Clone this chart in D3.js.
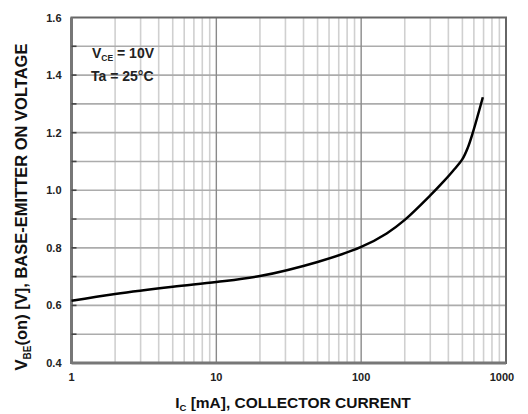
<!DOCTYPE html>
<html>
<head>
<meta charset="UTF-8">
<title>VBE(on) vs IC</title>
<script src="https://cdn.jsdelivr.net/npm/d3@7"></script>
<style>
  body { margin: 0; padding: 0; background: #fff; }
  text { font-family: "Liberation Sans", Arial, sans-serif; }
</style>
</head>
<body>
<script>
// collector current (mA) and VBE(on) (V)
var current = [1, 2, 5, 10, 20, 50, 100, 150, 200, 300, 367, 430, 500, 545, 590, 692];
var vbe     = [0.616, 0.64, 0.665, 0.681, 0.702, 0.751, 0.803, 0.85, 0.897, 0.982, 1.028, 1.067, 1.108, 1.148, 1.2, 1.323];

var xTicks = [1, 10, 100, 1000];
var yTicks = [0.4, 0.6, 0.8, 1.0, 1.2, 1.4, 1.6];

var w = 528, h = 414;
// note: "top" is a read-only window property, so use other names
var pLeft = 71.5, pRight = 506, pTop = 17.5, pBottom = 363;

var svg = d3.select("body").append("svg")
    .attr("width", w)
    .attr("height", h);

var x = d3.scaleLog().domain([1, 1000]).range([pLeft, pRight]);
var y = d3.scaleLinear().domain([0.4, 1.6]).range([pBottom, pTop]);

// minor vertical grid (2..9 per decade)
var minor = [];
[1, 10, 100].forEach(function (d) {
    for (var k = 2; k <= 9; k++) minor.push(d * k);
});
svg.append("g").selectAll("line").data(minor).enter().append("line")
    .attr("x1", function (d) { return x(d); })
    .attr("x2", function (d) { return x(d); })
    .attr("y1", pTop).attr("y2", pBottom)
    .attr("stroke", "#d0d0d0").attr("stroke-width", 1.6);

// horizontal grid every 0.1
var hLines = d3.range(5, 16).map(function (k) { return k / 10; });
svg.append("g").selectAll("line").data(hLines).enter().append("line")
    .attr("x1", pLeft).attr("x2", pRight)
    .attr("y1", function (d) { return y(d); })
    .attr("y2", function (d) { return y(d); })
    .attr("stroke", "#acacac").attr("stroke-width", 1.6);

// decade lines
svg.append("g").selectAll("line").data([10, 100]).enter().append("line")
    .attr("x1", function (d) { return x(d); })
    .attr("x2", function (d) { return x(d); })
    .attr("y1", pTop).attr("y2", pBottom)
    .attr("stroke", "#8a8a8a").attr("stroke-width", 1.4);

// frame
svg.append("rect")
    .attr("x", pLeft).attr("y", pTop)
    .attr("width", pRight - pLeft).attr("height", pBottom - pTop)
    .attr("fill", "none").attr("stroke", "#666").attr("stroke-width", 2);
svg.append("line").attr("x1", pLeft).attr("x2", pLeft).attr("y1", pTop).attr("y2", pBottom + 1)
    .attr("stroke", "#777").attr("stroke-width", 3);
svg.append("line").attr("x1", pLeft).attr("x2", pRight).attr("y1", pBottom).attr("y2", pBottom)
    .attr("stroke", "#777").attr("stroke-width", 3);

// small ticks on left axis
svg.append("g").selectAll("line").data(hLines).enter().append("line")
    .attr("x1", pLeft).attr("x2", pLeft + 5)
    .attr("y1", function (d) { return y(d); })
    .attr("y2", function (d) { return y(d); })
    .attr("stroke", "#444").attr("stroke-width", 1.6);

// tick labels
svg.append("g").selectAll("text").data(yTicks).enter().append("text")
    .attr("x", pLeft - 10)
    .attr("y", function (d) { return y(d) + 4; })
    .attr("text-anchor", "end")
    .attr("font-size", 11).attr("font-weight", "bold").attr("fill", "#222")
    .text(function (d) { return d.toFixed(1); });

svg.append("g").selectAll("text").data(xTicks).enter().append("text")
    .attr("x", function (d, i) { return x(d) + (i === 3 ? -4 : 0); })
    .attr("y", pBottom + 18)
    .attr("text-anchor", "middle")
    .attr("font-size", 11).attr("font-weight", "bold").attr("fill", "#222")
    .text(function (d) { return d; });

// curve
var line = d3.line()
    .x(function (d) { return x(d[0]); })
    .y(function (d) { return y(d[1]); })
    .curve(d3.curveCatmullRom);
svg.append("path")
    .datum(d3.zip(current, vbe))
    .attr("d", line)
    .attr("fill", "none").attr("stroke", "#000").attr("stroke-width", 2.5);

// annotation
var ann = svg.append("text").attr("x", 92).attr("y", 58)
    .attr("font-size", 14).attr("font-weight", "bold").attr("fill", "#222");
ann.append("tspan").text("V");
ann.append("tspan").attr("font-size", 8.5).attr("dy", 3).text("CE");
ann.append("tspan").attr("dy", -3).text(" = 10V");
svg.append("text").attr("x", 91).attr("y", 81)
    .attr("font-size", 14).attr("font-weight", "bold").attr("fill", "#222")
    .text("Ta = 25°C");

// x title
var xt = svg.append("text").attr("x", 293).attr("y", 408)
    .attr("text-anchor", "middle")
    .attr("font-size", 15.5).attr("font-weight", "bold").attr("fill", "#111");
xt.append("tspan").text("I");
xt.append("tspan").attr("font-size", 9.5).attr("dy", 3).text("C");
xt.append("tspan").attr("dy", -3).text(" [mA], COLLECTOR CURRENT");

// y title
var yt = svg.append("text")
    .attr("transform", "translate(27,207) rotate(-90)")
    .attr("text-anchor", "middle")
    .attr("font-size", 16.5).attr("font-weight", "bold").attr("fill", "#111");
yt.append("tspan").text("V");
yt.append("tspan").attr("font-size", 10).attr("dy", 4).text("BE");
yt.append("tspan").attr("dy", -4).text("(on) [V], BASE-EMITTER ON VOLTAGE");
</script>
</body>
</html>
